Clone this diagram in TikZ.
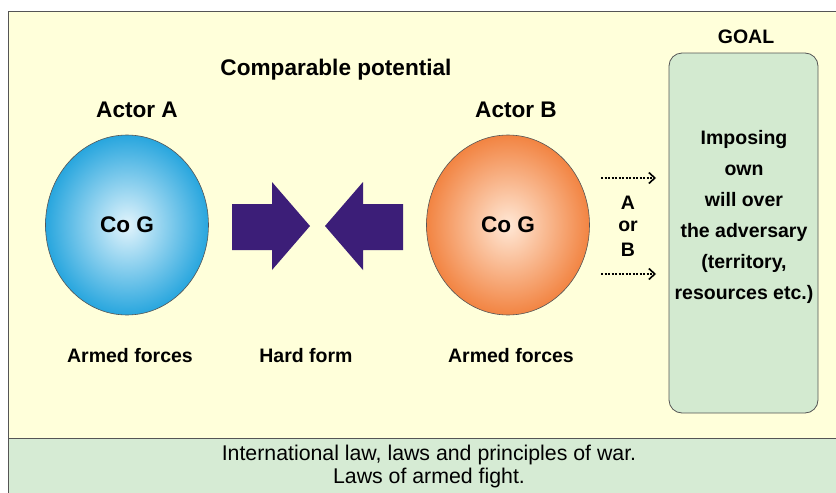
\documentclass[tikz,border=0pt]{standalone}
\usepackage{fontspec}
\setmainfont{Liberation Sans}
\usetikzlibrary{shapes.geometric,arrows.meta}
\definecolor{cream}{RGB}{255,255,218}
\definecolor{lawgreen}{RGB}{214,235,212}
\definecolor{goalgreen}{RGB}{211,234,208}
\definecolor{framegray}{RGB}{85,85,85}
\definecolor{blockpurple}{RGB}{60,30,120}
\definecolor{skyin}{RGB}{226,244,252}
\definecolor{skyout}{RGB}{40,166,222}
\definecolor{orangein}{RGB}{255,232,214}
\definecolor{orangeout}{RGB}{242,132,66}
\begin{document}
\begin{tikzpicture}[x=1pt,y=-1pt,
  every node/.style={inner sep=0pt},
  big/.style={font=\fontsize{22.6}{26}\selectfont\bfseries},
  lbl/.style={font=\fontsize{19.5}{24}\selectfont\bfseries},
  actor/.style={ellipse,draw=framegray,line width=0.6pt,minimum width=163pt,minimum height=180pt,big},
  push/.style={fill=blockpurple},
  hint/.style={dash pattern=on 2pt off 1.5pt,line width=1.5pt,-{Straight Barb[length=6pt,width=11pt,line width=1.6pt]}}]
\useasboundingbox (0,0) rectangle (836,493);
\fill[white] (0,0) rectangle (836,493);
% panels
\draw[framegray,fill=cream,line width=0.8pt] (8,11) rectangle (837,438);
\fill[lawgreen] (8,438) rectangle (837,494);
\draw[framegray,line width=0.8pt] (8,494) -- (8,438) -- (837,438);
\node[font=\fontsize{21.3}{24}\selectfont] (law1) at (429,455) {International law, laws and principles of war.};
\node[font=\fontsize{21.3}{24}\selectfont] (law2) at (429,478) {Laws of armed fight.};
% actors
\node[big] (title) at (336,70) {Comparable potential};
\node[big] (actA) at (137,110) {Actor A};
\node[big] (actB) at (516,110) {Actor B};
\node[actor,shade,inner color=skyin,outer color=skyout] (cogA) at (127,225) {Co G};
\node[actor,shade,inner color=orangein,outer color=orangeout] (cogB) at (508,225) {Co G};
\node[lbl] (armA) at (130,356) {Armed forces};
\node[lbl] (hard) at (306,356) {Hard form};
\node[lbl] (armB) at (511,356) {Armed forces};
% block arrows
\fill[push] (232,204) -- (272,204) -- (272,182) -- (310,226) -- (272,270) -- (272,250) -- (232,250) -- cycle;
\fill[push] (403,204) -- (363,204) -- (363,182) -- (325,226) -- (363,270) -- (363,250) -- (403,250) -- cycle;
% choice
\coordinate (upS) at (601,178);
\coordinate (upE) at (656,178);
\coordinate (dnS) at (601,274);
\coordinate (dnE) at (656,274);
\draw[hint] (upS) -- (upE);
\draw[hint] (dnS) -- (dnE);
\node[lbl] (chA) at (628,203) {A};
\node[lbl] (chor) at (628,226) {or};
\node[lbl] (chB) at (628,250) {B};
% goal
\node[lbl] (goal) at (746,37) {GOAL};
\draw[framegray,fill=goalgreen,line width=0.8pt,rounded corners=13pt] (669,53) rectangle (818,413);
\node[lbl,align=center,font=\fontsize{19.5}{31}\selectfont\bfseries] (aim) at (744,217)
  {Imposing\\own\\will over\\the adversary\\(territory,\\resources etc.)};
\end{tikzpicture}
\end{document}
